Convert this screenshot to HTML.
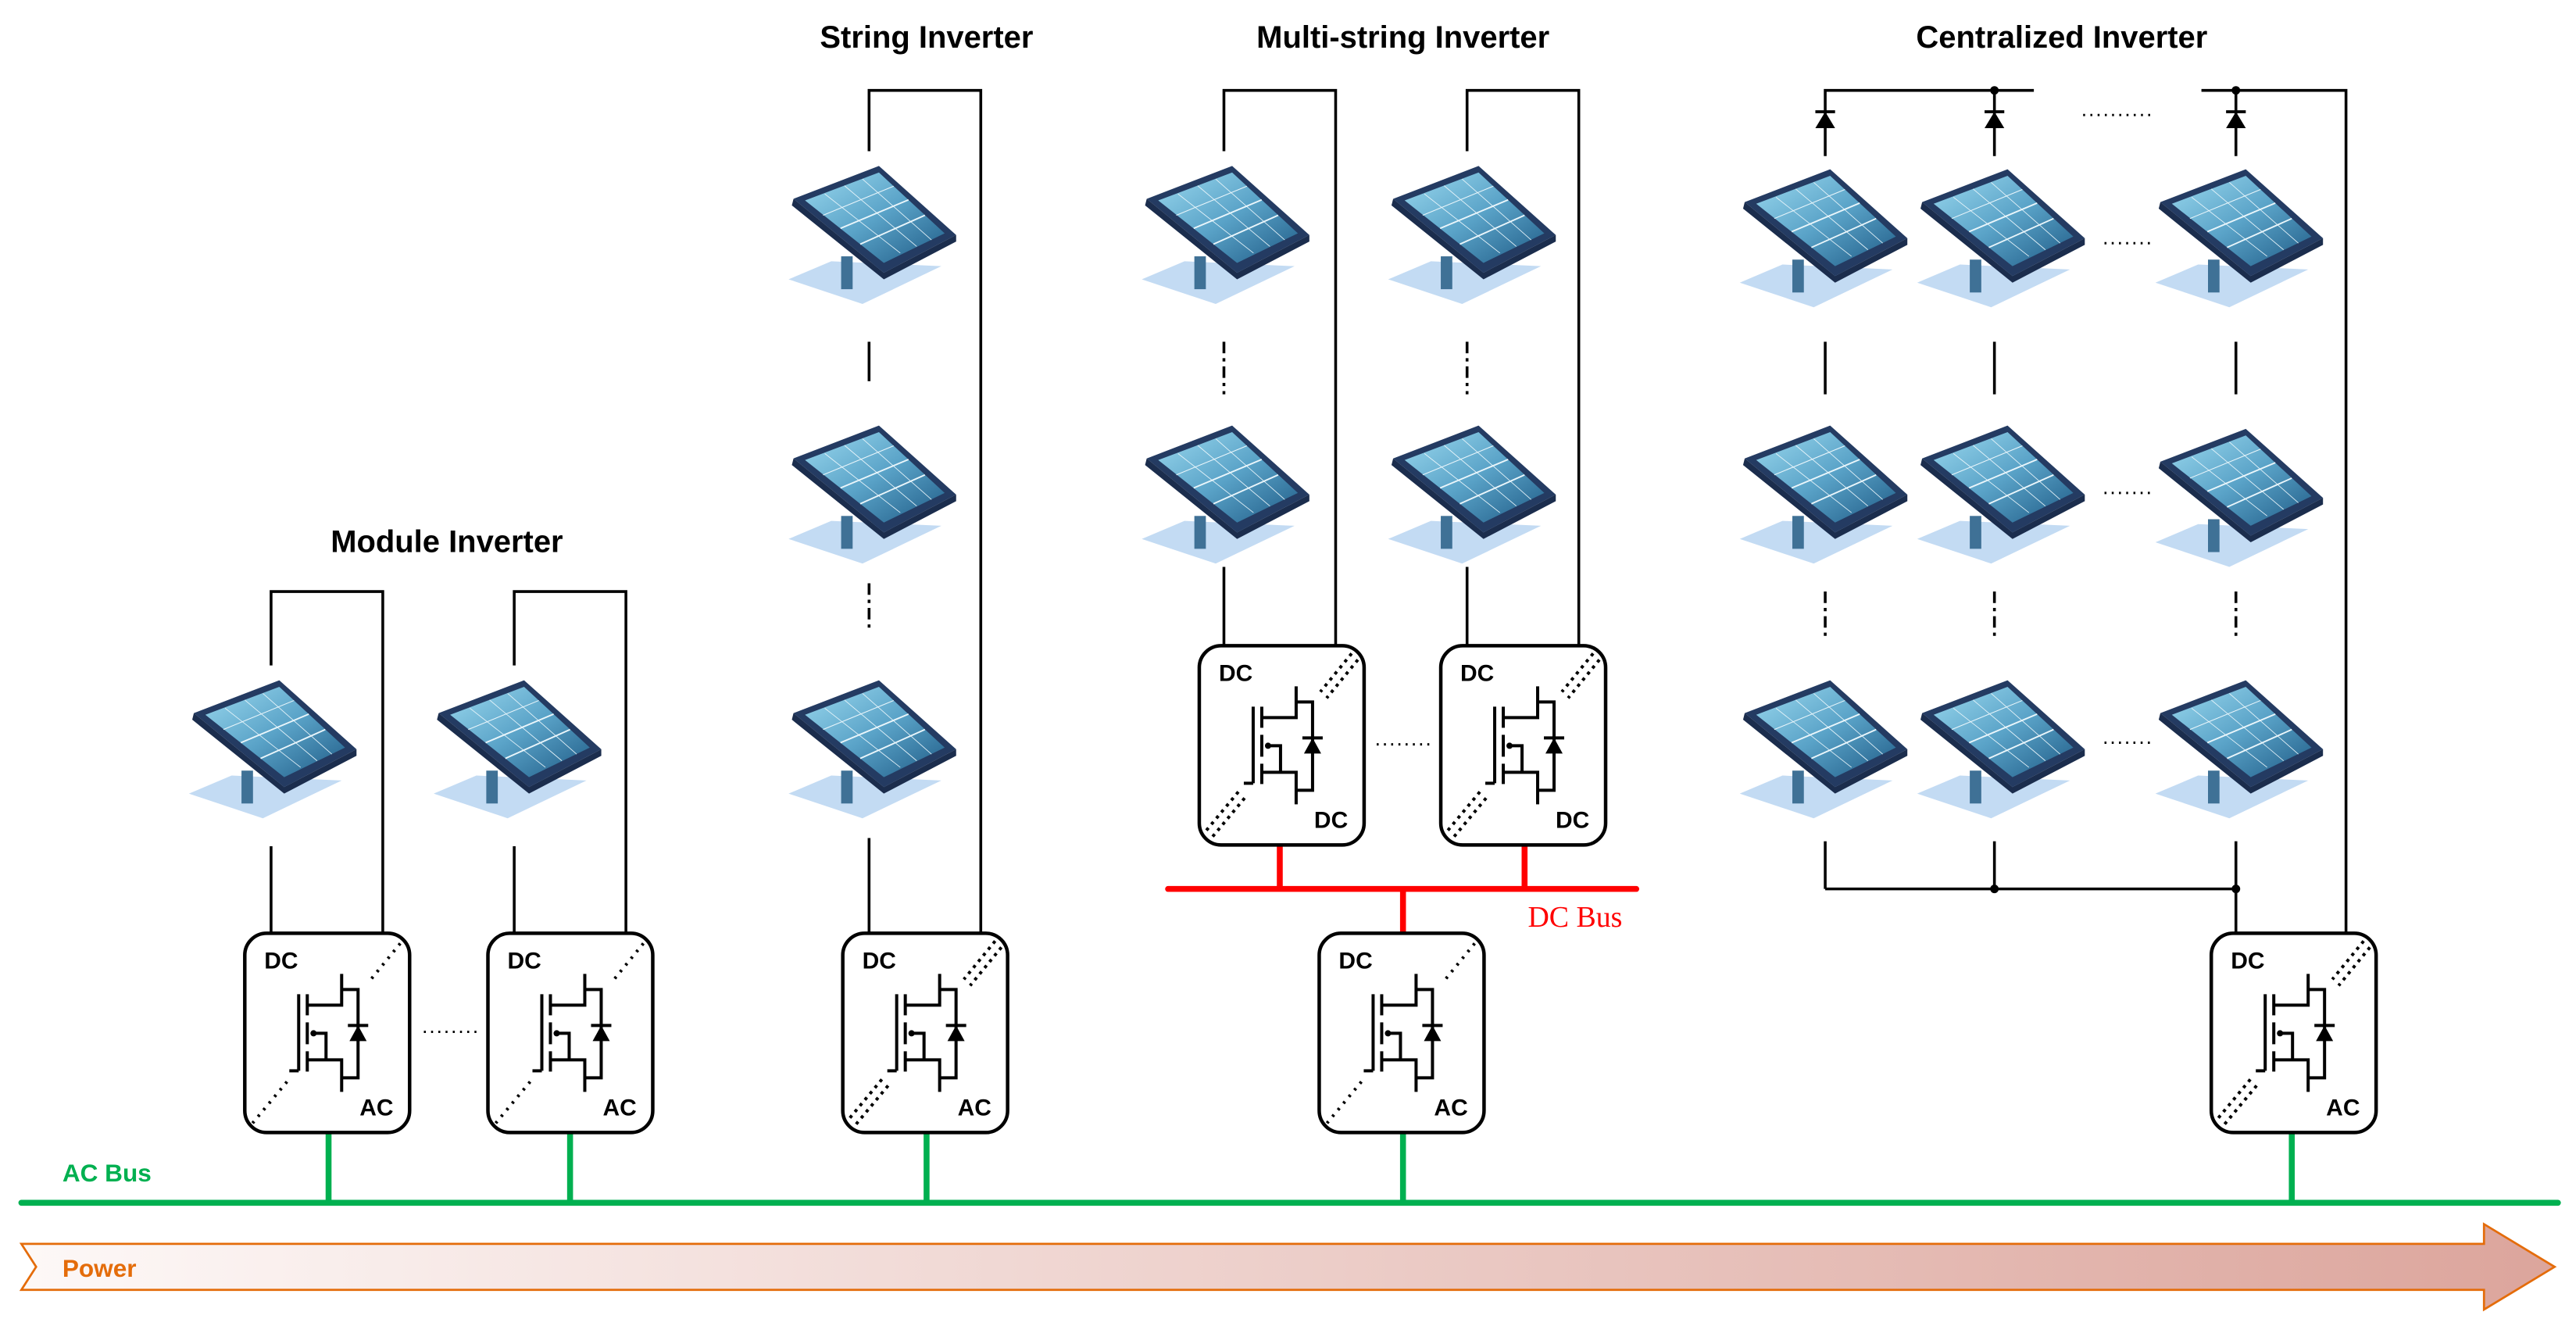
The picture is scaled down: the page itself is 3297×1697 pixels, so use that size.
<!DOCTYPE html>
<html><head><meta charset="utf-8"><style>
html,body{margin:0;padding:0;background:#fff;}
svg{display:block;}
text{font-family:"Liberation Sans",sans-serif;}
</style></head><body>
<svg width="3297" height="1697" viewBox="0 0 1568 807" preserveAspectRatio="none" xmlns="http://www.w3.org/2000/svg">
<defs>
<linearGradient id="glass" x1="0" y1="0" x2="1" y2="1">
<stop offset="0" stop-color="#9ad8ee"/><stop offset="0.5" stop-color="#5aa3c8"/><stop offset="1" stop-color="#1f5b86"/>
</linearGradient>
<linearGradient id="pw" x1="0" y1="0" x2="1" y2="0">
<stop offset="0" stop-color="#fdf8f7"/><stop offset="1" stop-color="#dca59c"/>
</linearGradient>
<g id="panel">
<polygon points="2,70 28,59 95,62 47,85" fill="#c3dbf3"/>
<rect x="34" y="56" width="7" height="20" fill="#3f7196"/>
<polygon points="5,21 57,1 104,43 60,66" fill="#243b62"/>
<polygon points="5,21 60,66 104,43 104,47 60,70 4,25" fill="#1b2d4d"/>
<polygon points="12,22 57,5 97,42 60,60" fill="url(#glass)"/>
<g stroke="#eaf6fb" stroke-width="0.9" fill="none">
<line x1="33.6" y1="39" x2="75" y2="21.6"/>
<line x1="45.6" y1="48.6" x2="85" y2="31"/>
<line x1="23" y1="31" x2="66" y2="13.3" stroke-width="0.5"/>
<line x1="24" y1="18" x2="70" y2="54" stroke-width="0.4"/>
<line x1="36" y1="13" x2="80" y2="50" stroke-width="0.4"/>
<line x1="47" y1="9" x2="89" y2="46" stroke-width="0.4"/>
</g>
</g>
<g id="inv">
<rect x="0" y="0" width="211" height="255" rx="28" fill="#fff" stroke="#000" stroke-width="4.5"/>
<text x="25" y="45" font-size="30" font-weight="bold">DC</text>
<g stroke="#000" stroke-width="4" fill="none">
<line x1="69" y1="78" x2="69" y2="176"/><line x1="57" y1="176" x2="69" y2="176"/>
<line x1="80" y1="78" x2="80" y2="105"/><line x1="80" y1="114" x2="80" y2="142"/><line x1="80" y1="151" x2="80" y2="177"/>
<polyline points="80,92 124,92 124,52"/><polyline points="124,72 145,72 145,185 124,185"/>
<polyline points="80,162 124,162 124,203"/><polyline points="86,128 104,128 104,162"/>
<line x1="132" y1="118" x2="158" y2="118"/>
</g>
<polygon points="145,118 134,138 156,138" fill="#000"/>
<circle cx="88" cy="128" r="4" fill="#000"/>
</g>
<g id="d1" stroke="#000" stroke-width="4" stroke-dasharray="3 8" fill="none">
<line x1="199" y1="13" x2="159" y2="62"/><line x1="54" y1="190" x2="10" y2="243"/>
</g>
<g id="d2" stroke="#000" stroke-width="4" stroke-dasharray="4 6" fill="none">
<line x1="195" y1="10" x2="155" y2="59"/><line x1="203" y1="18" x2="163" y2="67"/>
<line x1="50" y1="187" x2="6" y2="240"/><line x1="58" y1="195" x2="14" y2="248"/>
</g>
<text id="ac" x="147" y="233" font-size="30" font-weight="bold">AC</text>
<text id="dc2" x="147" y="233" font-size="30" font-weight="bold">DC</text>
<g id="diode"><line x1="-6" y1="-10" x2="6" y2="-10" stroke="#000" stroke-width="1.8"/><polygon points="0,-10 -6,0 6,0" fill="#000"/></g>
</defs>

<g font-weight="bold" font-size="19" text-anchor="middle">
<text x="272" y="336">Module Inverter</text>
<text x="564" y="29">String Inverter</text>
<text x="854" y="29">Multi-string Inverter</text>
<text x="1255" y="29">Centralized Inverter</text>
</g>

<g stroke="#000" stroke-width="1.7" fill="none">
<polyline points="165,405 165,360 233,360 233,568"/><line x1="165" y1="515" x2="165" y2="568"/>
<polyline points="313,405 313,360 381,360 381,568"/><line x1="313" y1="515" x2="313" y2="568"/>
<polyline points="529,92 529,55 597,55 597,568"/>
<line x1="529" y1="208" x2="529" y2="232"/>
<line x1="529" y1="355" x2="529" y2="385" stroke-dasharray="7 3 2 3"/>
<line x1="529" y1="510" x2="529" y2="568"/>
<polyline points="745,92 745,55 813,55 813,393"/>
<line x1="745" y1="208" x2="745" y2="240" stroke-dasharray="7 3 2 3"/>
<line x1="745" y1="345" x2="745" y2="393"/>
<polyline points="893,92 893,55 961,55 961,393"/>
<line x1="893" y1="208" x2="893" y2="240" stroke-dasharray="7 3 2 3"/>
<line x1="893" y1="345" x2="893" y2="393"/>
<polyline points="1111,95 1111,55 1238,55"/><line x1="1214" y1="55" x2="1214" y2="95"/>
<polyline points="1340,55 1428,55 1428,568"/><line x1="1361" y1="55" x2="1361" y2="95"/>
<line x1="1111" y1="208" x2="1111" y2="240"/><line x1="1214" y1="208" x2="1214" y2="240"/><line x1="1361" y1="208" x2="1361" y2="240"/>
<g stroke-dasharray="7 3 2 3"><line x1="1111" y1="360" x2="1111" y2="390"/><line x1="1214" y1="360" x2="1214" y2="390"/><line x1="1361" y1="360" x2="1361" y2="390"/></g>
<line x1="1111" y1="512" x2="1111" y2="541"/><line x1="1214" y1="512" x2="1214" y2="541"/>
<polyline points="1111,541 1361,541"/><line x1="1361" y1="512" x2="1361" y2="568"/>
</g>
<g fill="#000"><circle cx="1214" cy="55" r="2.6"/><circle cx="1361" cy="55" r="2.6"/><circle cx="1214" cy="541" r="2.6"/><circle cx="1361" cy="541" r="2.6"/></g>
<use href="#diode" x="1111" y="78"/><use href="#diode" x="1214" y="78"/><use href="#diode" x="1361" y="78"/>

<g stroke="#000" stroke-width="1.4" stroke-dasharray="1.2 3.2" fill="none">
<line x1="258" y1="628" x2="291" y2="628"/>
<line x1="838" y1="453" x2="872" y2="453"/>
<line x1="1268" y1="70" x2="1310" y2="70"/>
<line x1="1281" y1="148" x2="1310" y2="148"/>
<line x1="1281" y1="300" x2="1310" y2="300"/>
<line x1="1281" y1="452" x2="1310" y2="452"/>
</g>

<use href="#panel" x="113" y="413"/><use href="#panel" x="262" y="413"/>
<use href="#panel" x="478" y="100"/><use href="#panel" x="478" y="258"/><use href="#panel" x="478" y="413"/>
<use href="#panel" x="693" y="100"/><use href="#panel" x="693" y="258"/>
<use href="#panel" x="843" y="100"/><use href="#panel" x="843" y="258"/>
<use href="#panel" x="1057" y="102"/><use href="#panel" x="1165" y="102"/><use href="#panel" x="1310" y="102"/>
<use href="#panel" x="1057" y="258"/><use href="#panel" x="1165" y="258"/><use href="#panel" x="1310" y="260"/>
<use href="#panel" x="1057" y="413"/><use href="#panel" x="1165" y="413"/><use href="#panel" x="1310" y="413"/>

<g stroke="#ff0000" stroke-width="3.6" stroke-linecap="round">
<line x1="711" y1="541" x2="996" y2="541"/>
<line x1="779" y1="515" x2="779" y2="541" stroke-linecap="butt"/>
<line x1="928" y1="515" x2="928" y2="541" stroke-linecap="butt"/>
<line x1="854" y1="541" x2="854" y2="568" stroke-linecap="butt"/>
</g>
<text x="930" y="564" font-size="18" fill="#ff0000" style="font-family:'Liberation Serif',serif">DC Bus</text>

<g stroke="#00b050" stroke-width="3.6">
<line x1="13" y1="732" x2="1557" y2="732" stroke-linecap="round"/>
<line x1="200" y1="689" x2="200" y2="732"/><line x1="347" y1="689" x2="347" y2="732"/>
<line x1="564" y1="689" x2="564" y2="732"/><line x1="854" y1="689" x2="854" y2="732"/>
<line x1="1395" y1="689" x2="1395" y2="732"/>
</g>
<text x="38" y="719" font-size="15" font-weight="bold" fill="#00b050">AC Bus</text>

<g transform="translate(149,568) scale(0.4755)"><use href="#inv"/><use href="#d1"/><use href="#ac"/></g>
<g transform="translate(297,568) scale(0.4755)"><use href="#inv"/><use href="#d1"/><use href="#ac"/></g>
<g transform="translate(513,568) scale(0.4755)"><use href="#inv"/><use href="#d2"/><use href="#ac"/></g>
<g transform="translate(730,393) scale(0.4755)"><use href="#inv"/><use href="#d2"/><use href="#dc2"/></g>
<g transform="translate(877,393) scale(0.4755)"><use href="#inv"/><use href="#d2"/><use href="#dc2"/></g>
<g transform="translate(803,568) scale(0.4755)"><use href="#inv"/><use href="#d1"/><use href="#ac"/></g>
<g transform="translate(1346,568) scale(0.4755)"><use href="#inv"/><use href="#d2"/><use href="#ac"/></g>

<polygon points="13,757 1512,757 1512,745 1555,771 1512,797 1512,785 13,785 22,771" fill="url(#pw)" stroke="#e46c0a" stroke-width="1.3"/>
<text x="38" y="777" font-size="15" font-weight="bold" fill="#e46c0a">Power</text>
</svg>
</body></html>
